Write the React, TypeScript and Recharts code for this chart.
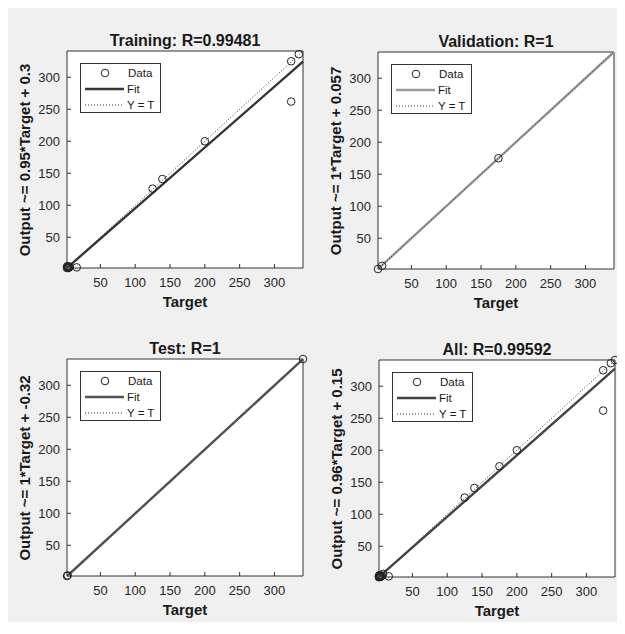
import React from "react";
import { ScatterChart, Scatter, XAxis, YAxis, CartesianGrid } from "recharts";

const AXIS_DOMAIN: [number, number] = [2, 341];
const TICKS = [50, 100, 150, 200, 250, 300];

const trainingPoints = [
  { x: 2, y: 2 },
  { x: 3, y: 3 },
  { x: 4, y: 2 },
  { x: 2, y: 4 },
  { x: 5, y: 3 },
  { x: 3, y: 5 },
  { x: 6, y: 4 },
  { x: 16, y: 3 },
  { x: 125, y: 126 },
  { x: 139, y: 141 },
  { x: 200, y: 200 },
  { x: 324, y: 325 },
  { x: 335, y: 336 },
  { x: 324, y: 262 },
];
const validationPoints = [
  { x: 2, y: 2 },
  { x: 8, y: 7 },
  { x: 175, y: 175 },
];
const testPoints = [
  { x: 2, y: 2 },
  { x: 3, y: 3 },
  { x: 341, y: 341 },
];
const allPoints = [...trainingPoints, ...validationPoints, ...testPoints];

const trainingFit = [
  { x: 2, y: 2.2 },
  { x: 341, y: 324.3 },
];
const validationFit = [
  { x: 2, y: 2.1 },
  { x: 341, y: 341 },
];
const testFit = [
  { x: 2.3, y: 2 },
  { x: 341, y: 340.7 },
];
const allFit = [
  { x: 2, y: 2.1 },
  { x: 341, y: 327.5 },
];
const identityLine = [
  { x: 2, y: 2 },
  { x: 341, y: 341 },
];

const AXIS_COLOR = "#333";
const TEXT_COLOR = "#1a1a1a";
const FONT = "'Liberation Sans', Arial, sans-serif";

const noShape = () => <g />;
const circleShape = (props: any) => (
  <circle cx={props.cx} cy={props.cy} r={3.8} fill="none" stroke="#222" strokeWidth={1} />
);
const emptyTick = () => <g />;

const PW = 236;
const PH = 217;

interface PanelProps {
  left: number;
  top: number;
  title: string;
  yLabel: string;
  points: { x: number; y: number }[];
  fit: { x: number; y: number }[];
  fitColor: string;
}

function Panel({ left, top, title, yLabel, points, fit, fitColor }: PanelProps) {
  return (
    <>
      <div style={{ position: "absolute", left: left - 59, top: top - 43 }}>
        <ScatterChart width={310} height={300} margin={{ top: 38, right: 10, bottom: 10, left: 14 }}>
          <CartesianGrid fill="#fff" fillOpacity={1} stroke="none" />
          <XAxis
            type="number"
            dataKey="x"
            domain={AXIS_DOMAIN}
            ticks={TICKS}
            height={30}
            tickSize={-4}
            tickMargin={14}
            stroke={AXIS_COLOR}
            tick={{ fill: "#262626", fontSize: 13 }}
          />
          <XAxis
            xAxisId="top"
            orientation="top"
            type="number"
            dataKey="x"
            domain={AXIS_DOMAIN}
            ticks={TICKS}
            height={5}
            tickSize={-4}
            stroke={AXIS_COLOR}
            tick={emptyTick}
          />
          <YAxis
            type="number"
            dataKey="y"
            domain={AXIS_DOMAIN}
            ticks={TICKS}
            width={45}
            tickSize={-4}
            tickMargin={11}
            stroke={AXIS_COLOR}
            tick={{ fill: "#262626", fontSize: 13 }}
          />
          <YAxis
            yAxisId="right"
            orientation="right"
            type="number"
            dataKey="y"
            domain={AXIS_DOMAIN}
            ticks={TICKS}
            width={5}
            tickSize={-4}
            stroke={AXIS_COLOR}
            tick={emptyTick}
          />
          <Scatter
            data={fit}
            line={{ stroke: fitColor, strokeWidth: 2.4 }}
            shape={noShape}
            isAnimationActive={false}
          />
          <Scatter
            data={identityLine}
            line={{ stroke: "#333", strokeWidth: 1, strokeDasharray: "1 2" }}
            shape={noShape}
            isAnimationActive={false}
          />
          <Scatter data={points} shape={circleShape} isAnimationActive={false} />
        </ScatterChart>
      </div>

      <div
        style={{
          position: "absolute",
          left: left,
          width: PW,
          top: top - 19,
          height: 18,
          lineHeight: "18px",
          textAlign: "center",
          fontWeight: "bold",
          fontSize: 16,
          color: TEXT_COLOR,
          whiteSpace: "nowrap",
        }}
      >
        {title}
      </div>
      <div
        style={{
          position: "absolute",
          left: left,
          width: PW,
          top: top + PH + 25,
          height: 18,
          lineHeight: "18px",
          textAlign: "center",
          fontWeight: "bold",
          fontSize: 15,
          color: TEXT_COLOR,
        }}
      >
        Target
      </div>
      <div
        style={{
          position: "absolute",
          left: left - 42 - 120,
          top: top + PH / 2 - 9,
          width: 240,
          height: 18,
          lineHeight: "18px",
          textAlign: "center",
          fontWeight: "bold",
          fontSize: 15,
          color: TEXT_COLOR,
          whiteSpace: "nowrap",
          transform: "rotate(-90deg)",
        }}
      >
        {yLabel}
      </div>

      <div
        style={{
          position: "absolute",
          left: left + 13,
          top: top + 12,
          width: 81,
          height: 50,
          boxSizing: "border-box",
          border: `1px solid ${AXIS_COLOR}`,
          background: "#fff",
        }}
      >
        <svg width={79} height={48} style={{ display: "block" }}>
          <circle cx={24} cy={9} r={3.8} fill="none" stroke="#222" strokeWidth={1} />
          <line x1={4} x2={43} y1={25} y2={25} stroke={fitColor} strokeWidth={2.4} />
          <line x1={4} x2={43} y1={41} y2={41} stroke="#333" strokeWidth={1} strokeDasharray="1 2" />
          <g fontSize={11.5} fill={TEXT_COLOR}>
            <text x={47} y={9} dominantBaseline="central">Data</text>
            <text x={46} y={25} dominantBaseline="central">Fit</text>
            <text x={46} y={40.5} dominantBaseline="central">Y = T</text>
          </g>
        </svg>
      </div>
    </>
  );
}

export default function App() {
  return (
    <div
      style={{
        position: "relative",
        width: 617,
        height: 626,
        fontFamily: FONT,
      }}
    >
      <div
        style={{
          position: "absolute",
          left: -1,
          top: -1,
          width: 612,
          height: 615,
          background: "#f0f0f0",
        }}
      />
      <Panel
        left={59}
        top={43}
        title="Training: R=0.99481"
        yLabel="Output ~= 0.95*Target + 0.3"
        points={trainingPoints}
        fit={trainingFit}
        fitColor="#353535"
      />
      <Panel
        left={370}
        top={44}
        title="Validation: R=1"
        yLabel="Output ~= 1*Target + 0.057"
        points={validationPoints}
        fit={validationFit}
        fitColor="#9a9a9a"
      />
      <Panel
        left={59}
        top={351}
        title="Test: R=1"
        yLabel="Output ~= 1*Target + -0.32"
        points={testPoints}
        fit={testFit}
        fitColor="#555"
      />
      <Panel
        left={371}
        top={352}
        title="All: R=0.99592"
        yLabel="Output ~= 0.96*Target + 0.15"
        points={allPoints}
        fit={allFit}
        fitColor="#444"
      />
    </div>
  );
}
